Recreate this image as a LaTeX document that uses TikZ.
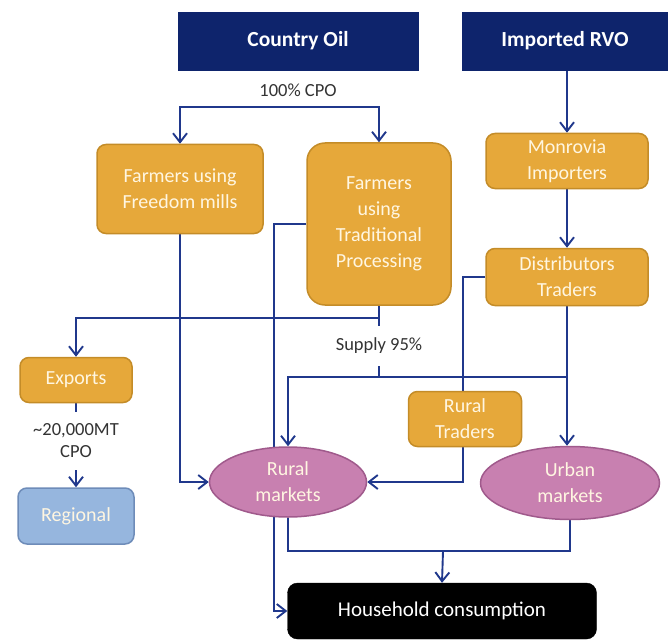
\documentclass[tikz,border=0pt]{standalone}
\usepackage{fontspec}
\setmainfont{Carlito}
\usepackage{xcolor}
\usetikzlibrary{shapes.geometric, arrows.meta, positioning, calc, backgrounds}

\definecolor{navy}{RGB}{14,36,108}
\definecolor{linecol}{RGB}{32,56,140}
\definecolor{gold}{RGB}{230,168,58}
\definecolor{golddark}{RGB}{196,140,40}
\definecolor{mauve}{RGB}{200,128,176}
\definecolor{mauvedark}{RGB}{160,90,140}
\definecolor{skyfill}{RGB}{150,182,222}
\definecolor{skydark}{RGB}{110,140,185}
\definecolor{cream}{RGB}{255,246,225}

\begin{document}
\begin{tikzpicture}[
    x=1pt, y=-1pt,
    source/.style={rectangle, draw=navy, fill=navy, text=white, font=\fontsize{21.5}{24}\selectfont\bfseries, align=center, inner sep=0pt},
    actor/.style={rectangle, rounded corners=9pt, draw=golddark, line width=1.5pt, fill=gold, text=cream, font=\fontsize{20}{26}\selectfont, align=center, inner sep=0pt},
    market/.style={ellipse, draw=mauvedark, line width=1.5pt, fill=mauve, text=cream, font=\fontsize{20}{26}\selectfont, align=center, inner sep=0pt},
    region/.style={rectangle, rounded corners=9pt, draw=skydark, line width=1.5pt, fill=skyfill, text=cream, font=\fontsize{20}{26}\selectfont, align=center, inner sep=0pt},
    sink/.style={rectangle, rounded corners=10pt, draw=black, fill=black, text=white, font=\fontsize{21}{24}\selectfont, align=center, inner sep=0pt},
    lbl/.style={font=\fontsize{18.5}{22}\selectfont, text=black!80, align=center, inner sep=0pt},
    flow/.style={draw=linecol, line width=1.9pt},
    arrow/.style={flow, -{Straight Barb[length=9pt, width=14pt, line width=1.9pt]}}
]
\useasboundingbox (0,0) rectangle (668,639);

\coordinate (split) at (298,107);
\coordinate (mix) at (379,377);
\coordinate (merge) at (443,551);

% Row 1: sources
\path (298,41) node[source, minimum width=240pt, minimum height=58pt] (country) {Country Oil};
\path (565,41) node[source, minimum width=206pt, minimum height=58pt] (imported) {Imported RVO};
\path (298,90) node[lbl] (cpo) {100\% CPO};

% Row 2: producers and importers
\path (180,189) node[actor, minimum width=166pt, minimum height=89pt] (freedom) {Farmers using\\Freedom mills};
\path (379,224) node[actor, rounded corners=18pt, minimum width=144pt, minimum height=162pt] (trad) {Farmers\\using\\Traditional\\Processing};
\path (567,161) node[actor, minimum width=162pt, minimum height=55pt] (monrovia) {Monrovia\\Importers};
\path (567,277) node[actor, minimum width=162pt, minimum height=57pt] (distrib) {Distributors\\Traders};

% Row 3: exports and traders
\path (76,380) node[actor, minimum width=112pt, minimum height=45pt] (exports) {Exports};
\path (379,346) node[lbl, minimum height=40pt] (supply) {Supply 95\%};
\path (465,419) node[actor, minimum width=113pt, minimum height=55pt] (ruraltr) {Rural\\Traders};
\path (76,441) node[lbl, minimum height=58pt] (expqty) {\textasciitilde 20,000MT\\CPO};

% Row 4: markets
\path (76,516) node[region, minimum width=116pt, minimum height=56pt] (regional) {Regional};
\path (288,482) node[market, minimum width=157pt, minimum height=70pt] (ruralm) {Rural\\markets};
\path (570,483) node[market, minimum width=179pt, minimum height=73pt] (urbanm) {Urban\\markets};
\path (442,611) node[sink, minimum width=309pt, minimum height=56pt] (house) {Household consumption};

\begin{pgfonlayer}{background}
% Country oil split
\draw[arrow] (split) -| (freedom.north);
\draw[arrow] (split) -| (trad.north);

% Imported oil chain
\draw[arrow] (imported.south -| monrovia.north) -- (monrovia.north);
\draw[arrow] (monrovia) -- (distrib);

% Traditional processing outputs
\draw[arrow] (trad.south) -- ++(0,12) -| (exports.north);
\draw[flow] (trad.south) -- (supply.north);
\draw[flow] (supply.south) -- (mix);
\draw[arrow] (mix) -| (ruralm.north);
\draw[flow] (mix) -- (mix -| distrib.south);
\draw[arrow] (distrib.south) -- (distrib.south |- urbanm.north);

% Exports to region
\draw[flow] (exports.south) -- (expqty.north);
\draw[arrow] (expqty.south) -- (regional.north);

% Into rural markets
\draw[arrow] (freedom.south) |- (ruralm.west);
\draw[flow] (distrib.west) -| ([xshift=-2pt]ruraltr.north);
\draw[arrow] ([xshift=-2pt]ruraltr.south) |- (ruralm.east);

% Into household consumption
\draw[arrow] (trad.west) -- ++(-32,0) |- (house.west);
\draw[flow] (ruralm.south) |- (merge);
\draw[flow] (urbanm.south) |- (merge);
\draw[arrow] (merge) -- (house.north);
\end{pgfonlayer}

\end{tikzpicture}
\end{document}
